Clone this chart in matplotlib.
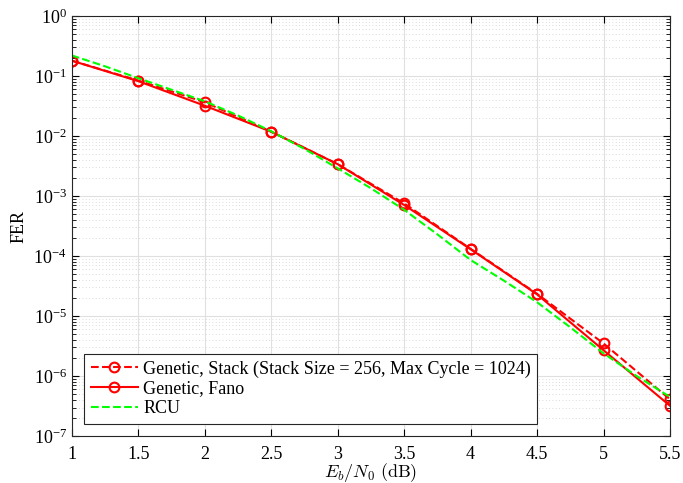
import numpy as np
import matplotlib
matplotlib.use("Agg")
import matplotlib.pyplot as plt
from matplotlib.ticker import LogLocator, NullFormatter, FixedLocator, FuncFormatter

plt.rcParams['font.family'] = ['Liberation Serif', 'DejaVu Serif']
plt.rcParams['mathtext.fontset'] = 'stix'

# Eb/N0 (dB)
ebn0 = [1.0, 1.5, 2.0, 2.5, 3.0, 3.5, 4.0, 4.5, 5.0, 5.5]
fer_stack = [1.8e-1, 8.4e-2, 3.65e-2, 1.18e-2, 3.4e-3, 7.55e-4, 1.32e-4, 2.35e-5, 3.5e-6, 4.1e-7]
fer_fano = [1.8e-1, 8.2e-2, 3.2e-2, 1.18e-2, 3.4e-3, 7.1e-4, 1.3e-4, 2.3e-5, 2.7e-6, 3.2e-7]

ebn0_rcu = [1.0, 1.25, 1.5, 1.75, 2.0, 2.25, 2.5, 2.75, 3.0, 3.25, 3.5, 3.75, 4.0, 4.25, 4.5, 4.75, 5.0, 5.25, 5.5]
fer_rcu = [2.2e-1, 1.45e-1, 9.2e-2, 5.9e-2, 3.8e-2, 2.2e-2, 1.2e-2, 6.1e-3, 2.9e-3, 1.35e-3, 5.9e-4,
           2.3e-4, 8.6e-5, 3.9e-5, 1.7e-5, 6.5e-6, 2.4e-6, 1.0e-6, 4.5e-7]

xticks = [1.0, 1.5, 2.0, 2.5, 3.0, 3.5, 4.0, 4.5, 5.0, 5.5]

fig = plt.figure(figsize=(6.83, 4.83), dpi=100)
ax = fig.add_axes([0.105, 0.097, 0.876, 0.870])

ax.semilogy(ebn0, fer_stack, 'r--o', lw=1.5, ms=7, mfc='none', mew=1.5,
            label='Genetic, Stack (Stack Size = 256, Max Cycle = 1024)')
ax.semilogy(ebn0, fer_fano, 'r-o', lw=1.5, ms=7, mfc='none', mew=1.5,
            label='Genetic, Fano')
ax.semilogy(ebn0_rcu, fer_rcu, '--', color='#00ff00', lw=1.5, label='RCU')

ax.set_xlim(1, 5.5)
ax.set_ylim(1e-7, 1)
ax.xaxis.set_major_locator(FixedLocator(xticks))
ax.xaxis.set_major_formatter(FuncFormatter(lambda v, p: f'{v:g}'))
ax.yaxis.set_major_locator(LogLocator(base=10, numticks=10))
ax.yaxis.set_minor_locator(LogLocator(base=10, subs=np.arange(2, 10), numticks=20))
ax.yaxis.set_minor_formatter(NullFormatter())

ax.grid(True, which='major', color='#e0e0e0', lw=0.8, ls='-')
ax.grid(True, which='minor', axis='y', color='#cfcfcf', lw=0.6, ls=(0, (1, 3)))
ax.set_axisbelow(True)
ax.tick_params(which='both', direction='in', top=True, right=True, labelsize=13)
ax.tick_params(which='major', length=5)
ax.tick_params(which='minor', length=3)
ax.tick_params(axis='x', pad=7)
for s in ax.spines.values():
    s.set_color('#262626')

ax.set_xlabel(r'$E_b/N_0\ \mathrm{(dB)}$', fontsize=13, labelpad=-1, math_fontfamily='cm')
ax.set_ylabel('FER', fontsize=13, labelpad=4)

leg = ax.legend(loc='lower left', fontsize=13, fancybox=False, edgecolor='#262626',
                framealpha=1, handlelength=2.6, borderaxespad=0.7,
                labelspacing=0.15, borderpad=0.35, handletextpad=0.3)
leg.get_frame().set_linewidth(0.8)

fig.savefig('out.png', dpi=100)
